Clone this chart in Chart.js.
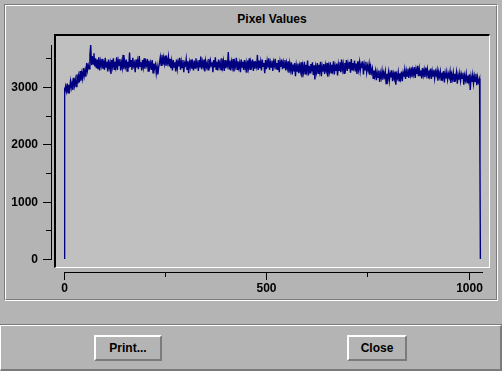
<!DOCTYPE html>
<html>
<head>
<meta charset="utf-8">
<title>Pixel Values</title>
<script src="https://cdn.jsdelivr.net/npm/chart.js@4.4.1/dist/chart.umd.min.js"></script>
<style>
  html, body { margin:0; padding:0; }
  body {
    width:502px; height:371px; overflow:hidden; position:relative;
    background:#b4b4b4;
    font: bold 12px "Liberation Sans", Arial, sans-serif; color:#000;
  }
  .frame {
    position:absolute; left:4px; top:4px; width:494px; height:297px;
    box-sizing:border-box; border:1px solid; border-color:#7b7b7b #fff #fff #7b7b7b;
  }
  .frame-inner {
    position:absolute; left:0; top:0; right:0; bottom:0;
    border:1px solid; border-color:#fff #7b7b7b #7b7b7b #fff;
  }
  .plotbox {
    position:absolute; left:54px; top:34px; width:436px; height:234px;
    box-sizing:border-box; background:#c0c0c0;
    border-top:2px solid #000; border-left:2px solid #000;
    border-right:1px solid #fff; border-bottom:1px solid #fff;
  }
  .title {
    position:absolute; left:54px; width:436px; top:12px; line-height:14px;
    text-align:center;
  }
  #pixelChart { position:absolute; left:0; top:0; }
  .panel {
    position:absolute; left:0; top:324px; width:502px; height:47px;
    box-sizing:border-box; border-top:1px solid #7b7b7b;
  }
  .panel-inner {
    position:absolute; left:0; top:0; right:0; bottom:0;
    border-top:1px solid #fff; border-left:1px solid #fff;
    border-right:2px solid #7b7b7b; border-bottom:2px solid #7b7b7b;
  }
  .btn {
    position:absolute; top:335px; height:26px; box-sizing:border-box;
    border:2px solid; border-color:#fff #7b7b7b #7b7b7b #fff;
    text-align:center; line-height:22px;
  }
</style>
</head>
<body>
<div class="frame"><div class="frame-inner"></div></div>
<div class="title">Pixel Values</div>
<div class="plotbox"></div>
<canvas id="pixelChart" width="502" height="301"></canvas>
<div class="panel"><div class="panel-inner"></div></div>
<div class="btn" style="left:94px; width:68px;">Print...</div>
<div class="btn" style="left:347px; width:60px;">Close</div>

<script>
// pixel values (every 2nd pixel for the body)
const headIndex = [0, 1];
const headValues = [0, 2990];

const bodyValues = [
  2880, 3010, 2930, 3060, 2900, 3040, 2960, 3100, 2990, 3080, 2950, 3160, 3030, 3130, 3010, 3220,
  3060, 3190, 3080, 3280, 3110, 3240, 3150, 3330, 3200, 3290, 3180, 3420, 3290, 3380, 3320, 3560,
  3733, 3380, 3540, 3400, 3590, 3360, 3500, 3330, 3480, 3310, 3520, 3290, 3450, 3370, 3490, 3320,
  3460, 3300, 3510, 3350, 3440, 3270, 3480, 3340, 3420, 3230, 3470, 3360, 3500, 3310, 3440, 3350,
  3520, 3300, 3460, 3380, 3490, 3290, 3430, 3340, 3560, 3310, 3450, 3360, 3480, 3280, 3440, 3330,
  3600, 3350, 3470, 3300, 3510, 3370, 3420, 3260, 3480, 3340, 3450, 3310, 3540, 3360, 3430, 3290,
  3470, 3350, 3500, 3320, 3440, 3380, 3490, 3280, 3460, 3340, 3420, 3300, 3470, 3250, 3410, 3330,
  3390, 3240, 3360, 3220, 3350, 3420, 3520, 3380, 3560, 3390, 3510, 3410, 3550, 3370, 3490, 3420,
  3530, 3360, 3490, 3330, 3450, 3290, 3470, 3350, 3430, 3270, 3480, 3320, 3440, 3360, 3510, 3300,
  3440, 3340, 3470, 3260, 3420, 3380, 3490, 3310, 3450, 3240, 3430, 3350, 3480, 3320, 3410, 3290,
  3460, 3330, 3500, 3370, 3420, 3280, 3470, 3340, 3530, 3310, 3440, 3360, 3480, 3270, 3450, 3350,
  3420, 3300, 3490, 3330, 3460, 3380, 3410, 3260, 3470, 3340, 3520, 3310, 3440, 3290, 3480, 3360,
  3430, 3300, 3500, 3350, 3450, 3280, 3470, 3330, 3420, 3370, 3610, 3320, 3460, 3290, 3440, 3350,
  3490, 3270, 3430, 3360, 3510, 3310, 3450, 3340, 3420, 3260, 3480, 3350, 3440, 3300, 3470, 3330,
  3420, 3250, 3460, 3340, 3500, 3310, 3430, 3370, 3480, 3280, 3450, 3320, 3410, 3350, 3560, 3300,
  3460, 3330, 3440, 3290, 3480, 3360, 3420, 3240, 3470, 3310, 3450, 3340, 3500, 3300, 3430, 3350,
  3460, 3280, 3440, 3370, 3490, 3320, 3420, 3300, 3470, 3260, 3440, 3350, 3480, 3310, 3430, 3340,
  3470, 3290, 3420, 3330, 3450, 3250, 3410, 3300, 3430, 3220, 3390, 3270, 3420, 3190, 3380, 3280,
  3410, 3240, 3370, 3280, 3430, 3170, 3360, 3260, 3440, 3230, 3390, 3290, 3460, 3200, 3370, 3250,
  3400, 3270, 3430, 3210, 3380, 3130, 3350, 3260, 3420, 3240, 3390, 3280, 3440, 3190, 3360, 3270,
  3400, 3230, 3380, 3290, 3420, 3180, 3360, 3270, 3430, 3250, 3390, 3300, 3450, 3220, 3370, 3280,
  3410, 3200, 3390, 3290, 3430, 3260, 3480, 3310, 3400, 3240, 3420, 3330, 3470, 3280, 3410, 3320,
  3440, 3250, 3490, 3300, 3420, 3340, 3460, 3270, 3410, 3230, 3450, 3310, 3430, 3280, 3400, 3330,
  3450, 3220, 3390, 3300, 3440, 3260, 3370, 3290, 3400, 3210, 3350, 3250, 3320, 3150, 3290, 3190,
  3280, 3120, 3260, 3170, 3290, 3090, 3240, 3160, 3280, 3130, 3250, 3180, 3270, 3060, 3230, 3140,
  3260, 3110, 3240, 3170, 3290, 3100, 3230, 3150, 3270, 3040, 3220, 3160, 3260, 3110, 3240, 3150,
  3270, 3100, 3250, 3180, 3300, 3140, 3280, 3190, 3320, 3160, 3290, 3210, 3340, 3170, 3300, 3220,
  3350, 3160, 3310, 3230, 3370, 3190, 3320, 3200, 3290, 3150, 3330, 3210, 3300, 3170, 3340, 3220,
  3310, 3160, 3290, 3200, 3320, 3140, 3280, 3190, 3300, 3150, 3270, 3210, 3290, 3110, 3260, 3180,
  3270, 3120, 3250, 3170, 3280, 3080, 3240, 3150, 3260, 3130, 3230, 3170, 3270, 3070, 3220, 3140,
  3250, 3100, 3230, 3160, 3260, 3060, 3210, 3130, 3240, 3110, 3220, 3150, 3250, 3040, 3200, 3120,
  3230, 3080, 3200, 3110, 3220, 2950, 3180, 3090, 3210, 3060, 3190, 3100, 3230, 3030, 3170, 3080
];
const BODY_START = 2;
const BODY_STEP = 2;

const tailIndex = [1027, 1028, 1029];
const tailValues = [3150, 1630, 0];

// axis ranges and tick labels
const xRange = [0, 1033];
const yRange = [0, 3733];
const xMajorTicks = [0, 500, 1000];
const xMinorTicks = [250, 750];
const yMajorTicks = [0, 1000, 2000, 3000];
const yMinorTicks = [500, 1500, 2500, 3500];

let chart;

const motifAxes = {
  id: "motifAxes",
  afterDraw(c){
    const ctx = c.ctx;
    const xs = c.scales.x, ys = c.scales.y;
    const yTop = Math.round(ys.getPixelForValue(yRange[1]));
    const yBot = Math.round(ys.getPixelForValue(yRange[0]));
    const xL = Math.round(xs.getPixelForValue(xRange[0]));
    const xR = Math.round(xs.getPixelForValue(xRange[1]));
    const axisX = 51, axisY = 272;

    ctx.save();
    ctx.fillStyle = "#000";
    // y axis
    ctx.fillRect(axisX, yTop, 1, yBot - yTop + 1);
    yMajorTicks.forEach(v => {
      const p = Math.round(ys.getPixelForValue(v));
      ctx.fillRect(axisX - 8, p, 8, 1);
    });
    yMinorTicks.forEach(v => {
      const p = Math.round(ys.getPixelForValue(v));
      ctx.fillRect(axisX - 5, p, 5, 1);
    });
    // x axis
    ctx.fillRect(xL, axisY, xR - xL + 1, 1);
    xMajorTicks.forEach(v => {
      const p = Math.round(xs.getPixelForValue(v));
      ctx.fillRect(p, axisY, 1, 8);
    });
    xMinorTicks.forEach(v => {
      const p = Math.round(xs.getPixelForValue(v));
      ctx.fillRect(p, axisY, 1, 5);
    });

    ctx.font = 'bold 12px "Liberation Sans", Arial, sans-serif';
    ctx.textBaseline = "middle";
    ctx.textAlign = "right";
    yMajorTicks.forEach(v => {
      ctx.fillText(String(v), 38, Math.round(ys.getPixelForValue(v)) + 1);
    });
    ctx.textAlign = "center";
    xMajorTicks.forEach(v => {
      ctx.fillText(String(v), Math.round(xs.getPixelForValue(v)) + 0.5, 289);
    });
    ctx.restore();
  }
};

function buildChart(){
  const ctx = document.getElementById("pixelChart");
  if(chart) chart.destroy();

  const bodyIndex = bodyValues.map((_, i) => BODY_START + i * BODY_STEP);
  const xs = headIndex.concat(bodyIndex, tailIndex);
  const ys = headValues.concat(bodyValues, tailValues);
  const points = xs.map((x, i) => ({ x, y: ys[i] }));

  chart = new Chart(ctx, {
    type: "line",
    data: {
      datasets: [{
        label: "Pixel Values",
        data: points,
        borderColor: "#000080",
        borderWidth: 1.4,
        pointRadius: 0,
        tension: 0,
        fill: false
      }]
    },
    options: {
      responsive: false,
      animation: false,
      devicePixelRatio: 1,
      layout: { padding: { left:64, right:20, top:45, bottom:42 } },
      plugins: { legend:{ display:false }, title:{ display:false }, tooltip:{ enabled:false } },
      scales: {
        x: { type:"linear", min:xRange[0], max:xRange[1], display:false },
        y: { type:"linear", min:yRange[0], max:yRange[1], display:false }
      }
    },
    plugins: [motifAxes]
  });
}

document.addEventListener("DOMContentLoaded", buildChart);
</script>
</body>
</html>
